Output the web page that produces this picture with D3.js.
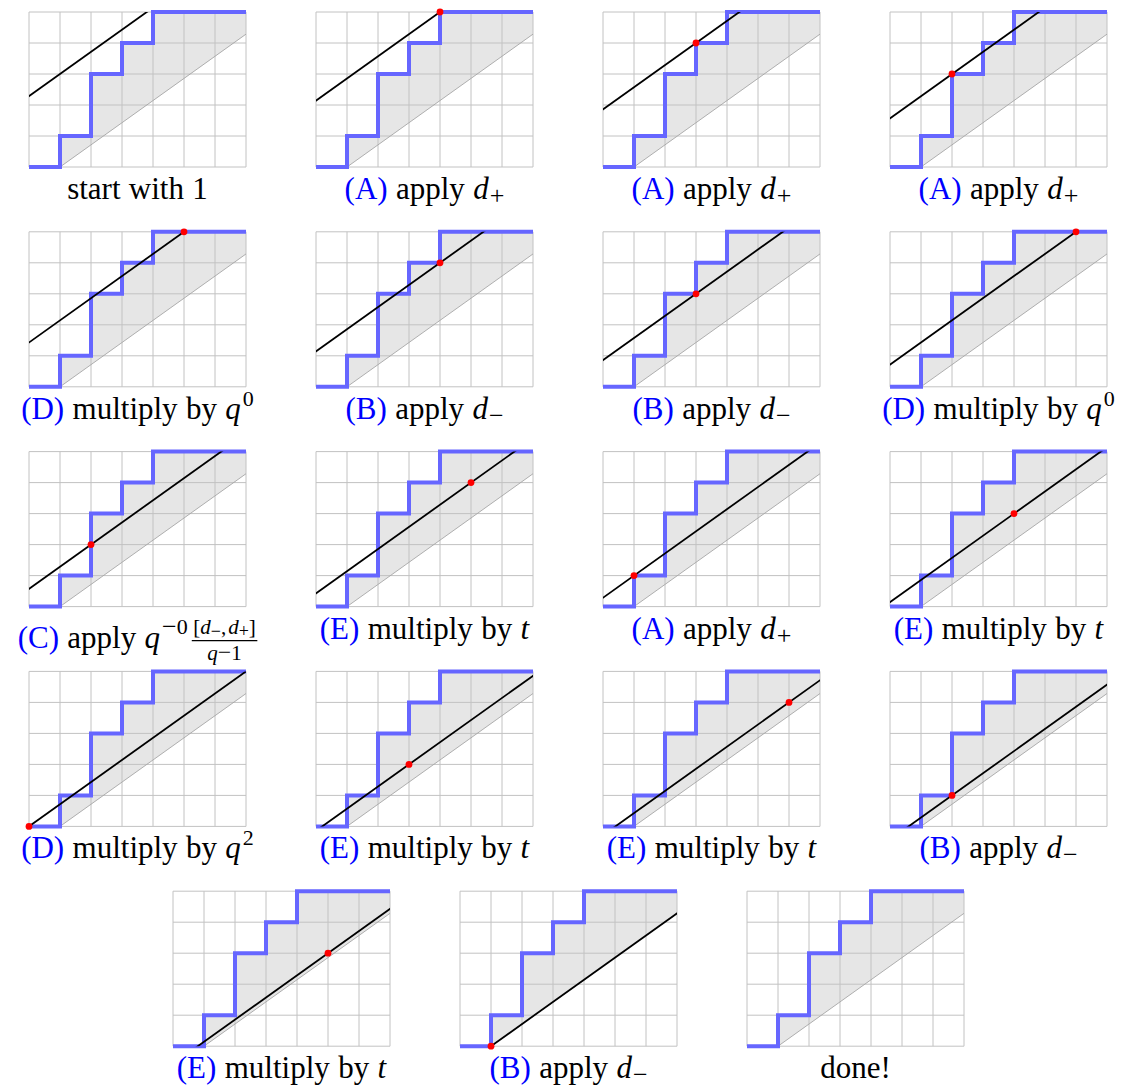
<!DOCTYPE html>
<html>
<head>
<meta charset="utf-8">
<script src="https://cdn.jsdelivr.net/npm/d3@7"></script>
<style>
    body { margin: 0; background: #fff; }
    svg { display: block; }
</style>
</head>
<body>
<svg id="chart"></svg>
<script>
//Vertices of the blue lattice path.
var pathCols = [0, 1, 1, 2, 2, 3, 3, 4, 4, 7];
var pathRows = [0, 0, 1, 1, 3, 3, 4, 4, 5, 5];

//Grid size, the lines are 7y - 5x = level.
var nCols = 7, nRows = 5;
var boundLevel = -5; //grey lower line

//Level of the black line in each panel (null = no line).
var lineLevels = [16, 15, 13, 11, 10, 8, 6, 5, 4, 3, 2, 1, 0, -1, -2, -3, -4, -5, null];

//Red dot of each panel.
var dotCols = [null, 4, 3, 2, 5, 4, 3, 6, 2, 5, 1, 4, 0, 3, 6, 2, 5, 1, null];
var dotRows = [null, 5, 4, 3, 5, 4, 3, 5, 2, 4, 1, 3, 0, 2, 4, 1, 3, 0, null];

//Step of each panel and the exponents of q in the (D) steps.
var stepLetters = ["start", "A", "A", "A", "D", "B", "B", "D", "C", "E", "A", "E", "D", "E", "E", "B", "E", "B", "done"];
var qPowers = ["0", "0", "2"];

(function () {

    var width = 1121, height = 1088;
    var cell = 31,
        gridW = cell * nCols,
        gridH = cell * nRows;

    var blue = "#6666ff",
        gridColor = "#c2c2c2",
        shade = "#e6e6e6";

    var font = "'Liberation Serif'";
    var mainSize = 31, smallSize = 22, signSize = 26, fracSize = 21, tinySize = 18;

    var svg = d3.select("#chart")
        .attr("width", width)
        .attr("height", height);

    var x = d3.scaleLinear().domain([0, nCols]).range([0, gridW]);
    var y = d3.scaleLinear().domain([0, nRows]).range([gridH, 0]);

    var line = d3.line()
        .x(function (d) { return x(d[0]); })
        .y(function (d) { return y(d[1]); });

    var pathPts = pathCols.map(function (c, i) { return [c, pathRows[i]]; });

    //y on the line 7y - 5x = level
    function levelY(level, c) {
        return (level + nRows * c) / nCols;
    }

    //Shaded region between the path and the grey line.
    var shadePts = pathPts.slice(1).concat([[nCols, levelY(boundLevel, nCols)]]);

    var qIndex = 0;

    stepLetters.forEach(function (step, p) {
        var row = Math.floor(p / 4),
            col = p % 4;
        var left = (row < 4 ? 29 : 173) + col * 287,
            top = 12 + row * 219.8;

        var g = svg.append("g")
            .attr("transform", "translate(" + left + "," + top + ")");

        svg.append("clipPath")
            .attr("id", "clip" + p)
            .append("rect")
            .attr("width", gridW)
            .attr("height", gridH);

        g.append("path")
            .datum(shadePts)
            .attr("d", line)
            .attr("fill", shade);

        //grid
        g.selectAll(".v")
            .data(d3.range(nCols + 1))
            .enter()
            .append("line")
            .attr("x1", function (d) { return x(d); })
            .attr("x2", function (d) { return x(d); })
            .attr("y1", y(0))
            .attr("y2", y(nRows))
            .attr("stroke", gridColor)
            .attr("stroke-width", 1);

        g.selectAll(".h")
            .data(d3.range(nRows + 1))
            .enter()
            .append("line")
            .attr("y1", function (d) { return y(d); })
            .attr("y2", function (d) { return y(d); })
            .attr("x1", x(0))
            .attr("x2", x(nCols))
            .attr("stroke", gridColor)
            .attr("stroke-width", 1);

        //grey lower line
        g.append("path")
            .datum([[1, 0], [nCols, levelY(boundLevel, nCols)]])
            .attr("d", line)
            .attr("stroke", "#a6a6a6")
            .attr("stroke-width", 0.9)
            .attr("fill", "none");

        //blue path
        g.append("path")
            .datum(pathPts)
            .attr("d", line)
            .attr("stroke", blue)
            .attr("stroke-width", 4)
            .attr("stroke-linejoin", "miter")
            .attr("fill", "none");

        //black line
        var level = lineLevels[p];
        if (level !== null) {
            g.append("path")
                .datum([[-3, levelY(level, -3)], [nCols + 3, levelY(level, nCols + 3)]])
                .attr("d", line)
                .attr("clip-path", "url(#clip" + p + ")")
                .attr("stroke", "#000")
                .attr("stroke-width", 1.8)
                .attr("fill", "none");
        }

        if (dotCols[p] !== null) {
            g.append("circle")
                .attr("cx", x(dotCols[p]))
                .attr("cy", y(dotRows[p]))
                .attr("r", 3.4)
                .attr("fill", "#ff0000");
        }

        //label
        var pieces = [];
        var sp = { space: mainSize * 0.27 };
        function tag(letter) {
            pieces.push({ s: "(" + letter + ")", color: "#0000ff" }, sp);
        }
        if (step === "start") {
            pieces.push({ s: "start" }, sp, { s: "with" }, sp, { s: "1" });
        } else if (step === "done") {
            pieces.push({ s: "done!" });
        } else if (step === "A" || step === "B") {
            tag(step);
            pieces.push({ s: "apply" }, sp, { s: "d", it: true }, { space: 1 },
                { s: step === "A" ? "+" : "\u2212", size: signSize, rise: -5 });
        } else if (step === "D") {
            tag(step);
            pieces.push({ s: "multiply" }, sp, { s: "by" }, sp, { s: "q", it: true },
                { space: 2 }, { s: qPowers[qIndex++], size: smallSize, rise: 13 });
        } else if (step === "E") {
            tag(step);
            pieces.push({ s: "multiply" }, sp, { s: "by" }, sp, { s: "t", it: true });
        } else if (step === "C") {
            tag(step);
            pieces.push({ s: "apply" }, sp, { s: "q", it: true }, { space: 2 },
                { s: "\u2212", size: signSize, rise: 13 }, { s: "0", size: smallSize, rise: 14 },
                { space: 4 },
                {
                    frac: [
                        [{ s: "[", size: fracSize }, { s: "d", it: true, size: fracSize },
                         { s: "\u2212", size: tinySize, rise: -3 }, { s: ",", size: fracSize },
                         { space: 2 },
                         { s: "d", it: true, size: fracSize }, { s: "+", size: tinySize, rise: -3 },
                         { s: "]", size: fracSize }],
                        [{ s: "q", it: true, size: fracSize }, { s: "\u2212", size: fracSize + 3 },
                         { s: "1", size: fracSize }]
                    ]
                });
        }

        var baseline = gridH + (step === "C" ? 41 : 32);
        var label = g.append("g");
        var w = addPieces(label, pieces, 0, baseline);
        label.attr("transform", "translate(" + (gridW / 2 - w / 2) + ",0)");
    });

    //Lays out text pieces one after another, returns the end position.
    function addPieces(parent, pieces, x0, base) {
        var cx = x0;
        pieces.forEach(function (pc) {
            if (pc.space) {
                cx += pc.space;
            } else if (pc.frac) {
                var num = parent.append("g"),
                    den = parent.append("g");
                var nw = addPieces(num, pc.frac[0], 0, base - 13.5),
                    dw = addPieces(den, pc.frac[1], 0, base + 12);
                var fw = Math.max(nw, dw) + 3;
                num.attr("transform", "translate(" + (cx + (fw - nw) / 2) + ",0)");
                den.attr("transform", "translate(" + (cx + (fw - dw) / 2) + ",0)");
                parent.append("line")
                    .attr("x1", cx)
                    .attr("x2", cx + fw)
                    .attr("y1", base - 7)
                    .attr("y2", base - 7)
                    .attr("stroke", "#000")
                    .attr("stroke-width", 1.1);
                cx += fw;
            } else {
                var t = parent.append("text")
                    .attr("x", cx)
                    .attr("y", base - (pc.rise || 0))
                    .style("font-family", font)
                    .style("font-size", (pc.size || mainSize) + "px")
                    .style("font-style", pc.it ? "italic" : "normal")
                    .attr("fill", pc.color || "#000")
                    .text(pc.s);
                cx += t.node().getComputedTextLength();
            }
        });
        return cx - x0;
    }

})();
</script>
</body>
</html>
